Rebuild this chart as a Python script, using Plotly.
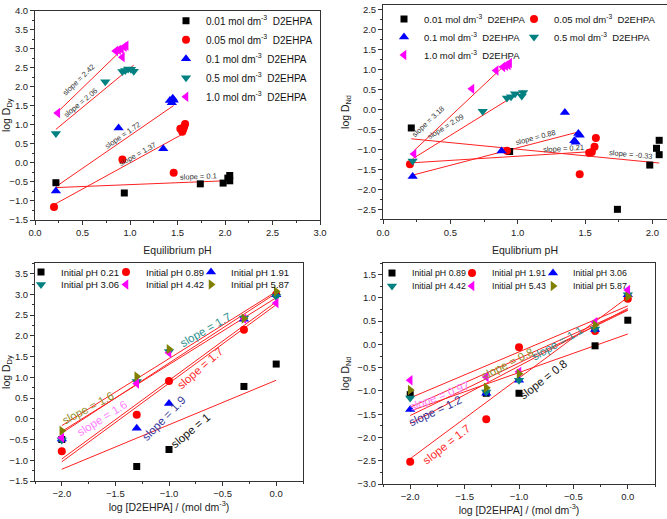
import numpy as np
import plotly.graph_objects as go

W, H = 667, 519
FONT = "Liberation Sans, Arial, sans-serif"

# ---------------- Panel A: log D(Dy) vs equilibrium pH ----------------
a_conc = ["0.01", "0.05", "0.1", "0.5", "1.0"]
a_ph_001 = [0.22, 0.94, 1.74, 1.98, 2.03, 2.05, 2.05]
a_lg_001 = [-0.52, -0.79, -0.55, -0.53, -0.40, -0.33, -0.47]
a_ph_005 = [0.20, 0.92, 1.46, 1.53, 1.55, 1.56, 1.57, 1.58]
a_lg_005 = [-1.16, 0.09, -0.26, 0.90, 0.82, 0.88, 0.95, 1.02]
a_ph_01 = [0.22, 0.88, 1.35, 1.42, 1.44, 1.45, 1.46]
a_lg_01 = [-0.74, 0.92, 0.37, 1.64, 1.58, 1.70, 1.65]
a_ph_05 = [0.22, 0.74, 0.92, 0.95, 0.98, 1.01, 1.04]
a_lg_05 = [0.77, 2.13, 2.40, 2.43, 2.47, 2.46, 2.41]
a_ph_1 = [0.24, 0.85, 0.88, 0.91, 0.92, 0.94, 0.96]
a_lg_1 = [1.31, 2.94, 2.97, 2.99, 2.78, 3.05, 3.08]
a_slopes = [0.1, 1.37, 1.72, 2.06, 2.42]

# ---------------- Panel B: log D(Nd) vs equilibrium pH ----------------
b_ph_001 = [0.21, 0.94, 1.74, 1.98, 2.03, 2.05, 2.05]
b_lg_001 = [-0.46, -1.05, -2.50, -1.39, -0.97, -0.77, -1.13]
b_ph_005 = [0.20, 0.92, 1.46, 1.53, 1.55, 1.57, 1.58]
b_lg_005 = [-1.37, -1.03, -1.62, -1.08, -1.06, -0.93, -0.71]
b_ph_01 = [0.22, 0.88, 1.35, 1.42, 1.43, 1.45, 1.46]
b_lg_01 = [-1.68, -1.04, -0.07, -0.78, -0.82, -0.60, -0.64]
b_ph_05 = [0.22, 0.74, 0.92, 0.95, 0.98, 1.03, 1.04]
b_lg_05 = [-1.29, -0.04, 0.29, 0.32, 0.40, 0.34, 0.43]
b_ph_1 = [0.23, 0.66, 0.84, 0.89, 0.91, 0.93, 0.94]
b_lg_1 = [-1.11, 0.52, 0.98, 1.07, 1.10, 1.12, 1.17]
b_slopes = [-0.33, 0.21, 0.88, 2.09, 3.18]

# ---------------- Panel C: log D(Dy) vs log[D2EHPA] ----------------
c_logc = [-2.0, -1.301, -1.0, -0.301, 0.0]
c_ph0 = ["0.21", "0.89", "1.91", "3.06", "4.42", "5.87"]
c_lg_021 = [-0.50, -1.15, -0.74, 0.78, 1.32]
c_lg_089 = [-0.78, 0.10, 0.91, 2.15, 3.00]
c_lg_191 = [-0.49, -0.23, 0.37, 2.40, 2.99]
c_lg_306 = [-0.51, 0.90, 1.62, 2.43, 2.95]
c_lg_442 = [-0.46, 0.85, 1.59, 2.41, 2.79]
c_lg_587 = [-0.29, 1.02, 1.68, 2.42, 3.07]
c_slope_txt = ["slope = 1", "slope = 1.7", "slope = 1.9", "slope = 1.7", "slope = 1.6", "slope = 1.6"]

# ---------------- Panel D: log D(Nd) vs log[D2EHPA] ----------------
d_logc = [-2.0, -1.301, -1.0, -0.301, 0.0]
d_ph0 = ["0.89", "1.91", "3.06", "4.42", "5.43", "5.87"]
d_lg_089 = [-1.08, -1.05, -1.05, -0.03, 0.52]
d_lg_191 = [-2.52, -1.61, -0.06, 0.29, 0.98]
d_lg_306 = [-1.40, -1.05, -0.77, 0.32, 1.07]
d_lg_442 = [-1.15, -1.02, -0.77, 0.33, 1.07]
d_lg_543 = [-0.77, -0.70, -0.59, 0.48, 1.17]
d_lg_587 = [-0.98, -0.93, -0.63, 0.42, 1.03]
d_slope_txt = ["slope = 0.8", "slope = 1.7", "slope = 1.2", "slope = 1.1", "slope = 0.97", "slope = 0.8"]

COLORS = ["#000000", "#ff0000", "#0000ff", "#008080", "#ff00ff", "#808000"]
SYMS = ["square", "circle", "triangle-up", "triangle-down", "triangle-left", "triangle-right"]
SIZES = [7, 8, 9, 9, 9, 9]

# panel geometry (pixels)
PX = {
    1: dict(x0=35, x1=320, y0=10.7, y1=220, xr=[0, 3], yr=[-1.5, 4.0]),
    2: dict(x0=383, x1=667, y0=4.7, y1=219.3, xr=[0, 2.108], yr=[-2.75, 2.63]),
    3: dict(x0=35, x1=303, y0=263.3, y1=481, xr=[-2.25, 0.25], yr=[-1.5, 3.75]),
    4: dict(x0=383, x1=655, y0=263, y1=484, xr=[-2.25, 0.25], yr=[-3.0, 1.75]),
}

fig = go.Figure()


def ax_name(i, k):
    return k if i == 1 else f"{k}{i}"


def scale(i):
    g = PX[i]
    sx = (g["x1"] - g["x0"]) / (g["xr"][1] - g["xr"][0])
    sy = (g["y1"] - g["y0"]) / (g["yr"][1] - g["yr"][0])
    return sx, sy


def add_points(i, x, y, k, name, legend):
    fig.add_trace(go.Scatter(
        x=x, y=y, mode="markers", name=name, legend=legend,
        xaxis=ax_name(i, "x"), yaxis=ax_name(i, "y"),
        marker=dict(symbol=SYMS[k], color=COLORS[k], size=SIZES[k], line=dict(width=0)),
        showlegend=True, cliponaxis=False))


def add_line(i, xs, ys):
    fig.add_trace(go.Scatter(
        x=xs, y=ys, mode="lines", showlegend=False,
        xaxis=ax_name(i, "x"), yaxis=ax_name(i, "y"),
        line=dict(color="#ff2020", width=1)))


def centroid_line(x, y, m):
    x = np.asarray(x, float); y = np.asarray(y, float)
    xs = np.array([x.min(), x.max()])
    return xs, y.mean() + m * (xs - x.mean())


def slope_label(i, x, y, m, xl, d, size=7.5, color="#333333"):
    x = np.asarray(x, float); y = np.asarray(y, float)
    sx, sy = scale(i)
    th = np.arctan(m * sy / sx)
    yl = y.mean() + m * (xl - x.mean())
    fig.add_annotation(x=xl, y=yl, xref=ax_name(i, "x"), yref=ax_name(i, "y"),
                       text=f"slope = {m:g}", showarrow=False, textangle=-np.degrees(th),
                       xshift=-d * np.sin(th), yshift=d * np.cos(th),
                       font=dict(size=size, family=FONT, color=color))


def conc_label(c):
    return f"{c} mol dm<sup>-3</sup>\u00a0 D2EHPA"


# ---- panel A
a_sets = [(a_ph_001, a_lg_001), (a_ph_005, a_lg_005), (a_ph_01, a_lg_01), (a_ph_05, a_lg_05), (a_ph_1, a_lg_1)]
for k, (x, y) in enumerate(a_sets):
    xs, ys = centroid_line(x, y, a_slopes[k])
    add_line(1, xs, ys)
for k, (x, y) in enumerate(a_sets):
    add_points(1, x, y, k, conc_label(a_conc[k]), "legend")
a_lab_x = [1.726, 1.095, 0.947, 0.516, 0.526]
a_lab_d = [5.6, 4.2, 4.8, 4.8, 8.6]
for k, (x, y) in enumerate(a_sets):
    slope_label(1, x, y, a_slopes[k], a_lab_x[k], a_lab_d[k])

# ---- panel B
b_sets = [(b_ph_001, b_lg_001), (b_ph_005, b_lg_005), (b_ph_01, b_lg_01), (b_ph_05, b_lg_05), (b_ph_1, b_lg_1)]
for k, (x, y) in enumerate(b_sets):
    xs, ys = centroid_line(x, y, b_slopes[k])
    add_line(2, xs, ys)
for k, (x, y) in enumerate(b_sets):
    add_points(2, x, y, k, conc_label(a_conc[k]), f"legend{2 + k}")
b_lab_x = [1.834, 1.344, 1.143, 0.505, 0.393]
b_lab_d = [5.4, 4.5, 5.8, 10.0, 11.0]
for k, (x, y) in enumerate(b_sets):
    slope_label(2, x, y, b_slopes[k], b_lab_x[k], b_lab_d[k])

# ---- panel C
c_sets = [c_lg_021, c_lg_089, c_lg_191, c_lg_306, c_lg_442, c_lg_587]
for y in c_sets:
    p = np.polyfit(c_logc, y, 1)
    xs = np.array([min(c_logc), max(c_logc)])
    add_line(3, xs, np.polyval(p, xs))
for k, y in enumerate(c_sets):
    add_points(3, c_logc, y, k, f"Initial pH {c_ph0[k]}", f"legend{7 + k}")

# ---- panel D
d_sets = [d_lg_089, d_lg_191, d_lg_306, d_lg_442, d_lg_543, d_lg_587]
for y in d_sets:
    p = np.polyfit(d_logc, y, 1)
    xs = np.array([min(d_logc), max(d_logc)])
    add_line(4, xs, np.polyval(p, xs))
for k, y in enumerate(d_sets):
    add_points(4, d_logc, y, k, f"Initial pH {d_ph0[k]}", f"legend{13 + k}")

# slope labels on panels C and D (text colour per series)
LABEL_COLORS = ["#111111", "#ff2a2a", "#33339a", "#2f9090", "#ff80ff", "#8f8f2a"]
c_lab_pos = [(-0.804, -0.29, 40), (-0.707, 1.22, 41), (-1.047, 0.03, 46), (-0.664, 2.15, 30), (-1.62, 0.01, 32), (-1.754, 0.25, 28)]
for k, (xl, yl, ang) in enumerate(c_lab_pos):
    fig.add_annotation(x=xl, y=yl, xref="x3", yref="y3", text=c_slope_txt[k], showarrow=False,
                       textangle=-ang, font=dict(size=11.5, family=FONT, color=LABEL_COLORS[k]))
d_lab_pos = [(-0.771, -0.75, 38), (-1.662, -2.14, 38), (-1.77, -1.43, 25), (-0.645, 0.03, 30), (-1.733, -1.11, 21), (-1.109, -0.41, 27)]
for k, (xl, yl, ang) in enumerate(d_lab_pos):
    fig.add_annotation(x=xl, y=yl, xref="x4", yref="y4", text=d_slope_txt[k], showarrow=False,
                       textangle=-ang, font=dict(size=11.5, family=FONT, color=LABEL_COLORS[k]))


# ---- axes
def axis(i, which, title, standoff, dtick=0.5, minor=0.25):
    g = PX[i]
    if which == "x":
        dom = [g["x0"] / W, g["x1"] / W]
        rng = g["xr"]
    else:
        dom = [1 - g["y1"] / H, 1 - g["y0"] / H]
        rng = g["yr"]
    return dict(
        domain=dom, range=rng, anchor=ax_name(i, "y" if which == "x" else "x"),
        tick0=0, dtick=dtick, tickformat=".1f", ticks="outside", ticklen=4, tickwidth=1,
        tickcolor="#333", showline=True, linecolor="#333", linewidth=1, mirror=True,
        showgrid=False, zeroline=False, automargin=False,
        minor=dict(dtick=minor, tick0=0, ticks="outside", ticklen=2, tickcolor="#333", showgrid=False),
        tickfont=dict(size=9.5, family=FONT, color="#222"),
        title=dict(text=title, standoff=standoff, font=dict(size=10.5, family=FONT, color="#222")),
    )


layout = dict(
    width=W, height=H, margin=dict(l=0, r=0, t=0, b=0), autosize=False,
    paper_bgcolor="white", plot_bgcolor="white", font=dict(family=FONT),
)
layout["xaxis"] = axis(1, "x", "Equilibrium pH", 9)
layout["yaxis"] = axis(1, "y", "log D<sub>Dy</sub>", 6)
layout["xaxis2"] = axis(2, "x", "Equlibrium pH", 9)
layout["yaxis2"] = axis(2, "y", "log D<sub>Nd</sub>", 5)
layout["xaxis3"] = axis(3, "x", "log [D2EHPA] / (mol dm<sup>-3</sup>)", 4)
layout["yaxis3"] = axis(3, "y", "log D<sub>Dy</sub>", 6)
layout["xaxis4"] = axis(4, "x", "log [D2EHPA] / (mol dm<sup>-3</sup>)", 4)
layout["yaxis4"] = axis(4, "y", "log D<sub>Nd</sub>", 5)


def legend(x_symbol, item_center_y, size):
    return dict(x=(x_symbol - 20) / W, y=1 - (item_center_y - 14.5) / H, xanchor="left", yanchor="top",
                orientation="v", bgcolor="rgba(0,0,0,0)", borderwidth=0,
                font=dict(size=size, family=FONT, color="#111"), tracegroupgap=0)


layout["legend"] = legend(186, 20.7, 10)
# panel B legend: 3 rows x 2 columns
b_leg_pos = [(404, 19), (534, 19), (404, 37), (534, 37), (404, 55)]
for k, (xs_, ys_) in enumerate(b_leg_pos):
    layout[f"legend{2 + k}"] = legend(xs_, ys_, 9.5)
# panel C legend: 2 rows x 3 columns
c_leg_pos = [(41, 272), (126, 272), (211, 272), (41, 284.5), (126, 284.5), (211, 284.5)]
for k, (xs_, ys_) in enumerate(c_leg_pos):
    layout[f"legend{7 + k}"] = legend(xs_, ys_, 9.5)
# panel D legend: 2 rows x 3 columns
d_leg_pos = [(392, 273), (472, 273), (553, 273), (392, 286), (472, 286), (553, 286)]
for k, (xs_, ys_) in enumerate(d_leg_pos):
    layout[f"legend{13 + k}"] = legend(xs_, ys_, 8.8)

fig.update_layout(**layout)
fig.write_html("out.html")
